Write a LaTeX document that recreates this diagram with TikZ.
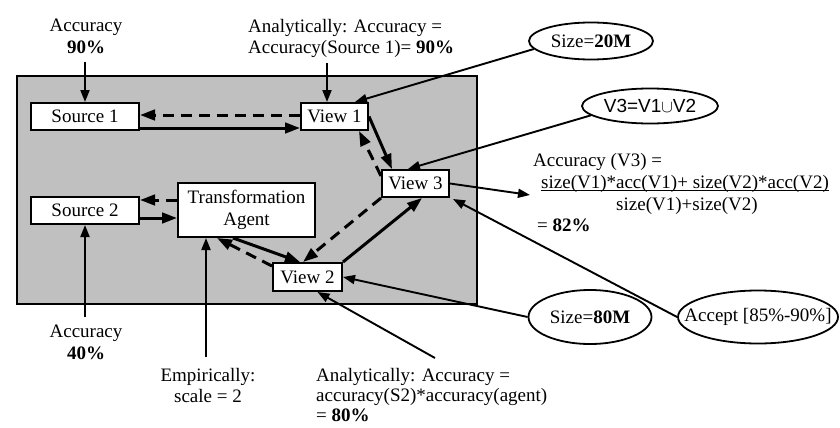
\documentclass[tikz,border=0pt]{standalone}
\usepackage{fontspec}
\setmainfont{Liberation Serif}
\newfontfamily\arialish{Liberation Sans}
\usetikzlibrary{arrows.meta,shapes.geometric}

\begin{document}
\begin{tikzpicture}[x=1pt,y=-1pt,
  txt/.style={font=\fontsize{19}{21.5}\selectfont, inner sep=0pt},
  boxnode/.style={txt, draw, fill=white, line width=2pt, align=center},
  oval/.style={txt, draw, ellipse, line width=1.8pt},
  flow/.style={line width=3pt, -{Triangle[length=15pt,width=10.5pt]}},
  dflow/.style={flow, dash pattern=on 11pt off 7pt},
  note/.style={line width=1.9pt, -{Triangle[length=12pt,width=9pt]}}]

\useasboundingbox (0,0) rectangle (840,428);

% shaded panel holding the sources, the agent and the views
\draw[fill={rgb,255:red,192;green,192;blue,192}, line width=1.8pt] (17,76) rectangle (477,304);

% boxes
\node[boxnode, minimum width=108pt, minimum height=27pt] (src1) at (85,116.5) {Source 1};
\node[boxnode, minimum width=67pt, minimum height=27pt] (view1) at (334.5,116.5) {View 1};
\node[boxnode, minimum width=67pt, minimum height=27pt] (view3) at (415.5,183.5) {View 3};
\node[boxnode, minimum width=137pt, minimum height=54pt] (agent) at (246.5,210) {Transformation\\Agent};
\node[boxnode, minimum width=69pt, minimum height=28pt] (view2) at (307.5,277) {View 2};
\node[boxnode, minimum width=108pt, minimum height=27pt] (src2) at (85,210.5) {Source 2};

% ellipses
\node[oval, minimum width=124pt, minimum height=37pt] (e20) at (591,41) {\makebox[0pt]{Size=\textbf{20M}}};
\node[oval, minimum width=136pt, minimum height=35pt] (eU) at (650,106) {\makebox[0pt]{\arialish V3=V1$\cup$V2}};
\node[oval, minimum width=123pt, minimum height=54pt] (e80) at (590,317) {\makebox[0pt]{Size=\textbf{80M}}};
\node[oval, minimum width=160pt, minimum height=53pt] (eacc) at (758,317) {\makebox[0pt]{Accept [85\%-90\%]}};

% annotations
\node[txt, anchor=north, align=center] (acc90) at (86,19) {Accuracy\\\textbf{90\%}};
\node[txt, anchor=north west, align=left] (anatop) at (248,19) {Analytically: Accuracy =\\Accuracy(Source 1)= \textbf{90\%}};
\node[txt, anchor=north, align=center] (acc40) at (86,325) {Accuracy\\\textbf{40\%}};
\node[txt, anchor=north, align=center] (emp) at (208,368) {Empirically:\\scale = 2};
\node[txt, anchor=north west, align=left, font=\fontsize{19}{20}\selectfont] (anabot) at (316,368)
  {Analytically: Accuracy =\\accuracy(S2)*accuracy(agent)\\= \textbf{80\%}};

% accuracy formula of the union view
\node[txt, anchor=base west] (accv3) at (533,166.5) {Accuracy (V3) =};
\node[txt, anchor=base west] (num) at (541,188) {size(V1)*acc(V1)+ size(V2)*acc(V2)};
\node[txt, anchor=base] (den) at (687,210.5) {size(V1)+size(V2)};
\node[txt, anchor=base west] (res) at (537,231) {= \textbf{82\%}};
\draw[line width=1pt] ([yshift=-2.5pt]num.base west) -- ([yshift=-2.5pt]num.base east);
\coordinate (fr) at (530,195);

% data flow between sources, agent and views
\draw[flow] ([yshift=-11.5pt]src1.east) -- ([yshift=-11.5pt]view1.west);
\draw[dflow] ([yshift=1.5pt]view1.west) -- ([yshift=1.5pt]src1.east);
\draw[flow] (view1.east) -- ([xshift=11pt]view3.north west);
\draw[dflow] ([yshift=-7pt]view3.north west) -- ([xshift=-10pt]view1.south east);
\coordinate (s2out) at ([yshift=-7.5pt]src2.east);
\draw[flow] (s2out) -- (s2out -| agent.west);
\coordinate (agout) at ([yshift=10pt]agent.west);
\draw[dflow] (agout) -- (agout -| src2.east);
\draw[flow] ([xshift=-13.5pt]agent.south) -- ([xshift=-7.5pt]view2.north);
\draw[dflow] ([yshift=-4pt]view2.north west) -- ([xshift=-29.5pt]agent.south);
\draw[flow] (view2.north east) -- ([xshift=6.5pt]view3.south);
\draw[dflow] (view3.south west) -- ([xshift=-4.5pt]view2.north);

% annotation pointers
\draw[note, shorten <=8pt] (src1.north |- acc90.south) -- (src1.north);
\coordinate (v1in) at ([xshift=-7.5pt]view1.north);
\draw[note, shorten <=5pt] (v1in |- anatop.south) -- (v1in);
\draw[note] (e20.188) -- ([xshift=-14pt]view1.north east);
\draw[note] (eU.189) -- ([xshift=-7.5pt]view3.north);
\draw[note] (view3.east) -- (fr);
\draw[note] (eacc.west) -- ([xshift=3pt,yshift=-1pt]view3.south east);
\draw[note] (e80.west) -- (view2.east);
\draw[note] ([xshift=119pt,yshift=10pt]anabot.north west) -- ([xshift=10pt]view2.south);
\draw[note, shorten <=8pt] (src2.south |- acc40.north) -- (src2.south);
\coordinate (agin) at ([xshift=-40.5pt]agent.south);
\draw[note, shorten <=11pt] (agin |- emp.north) -- (agin);

\end{tikzpicture}
\end{document}
